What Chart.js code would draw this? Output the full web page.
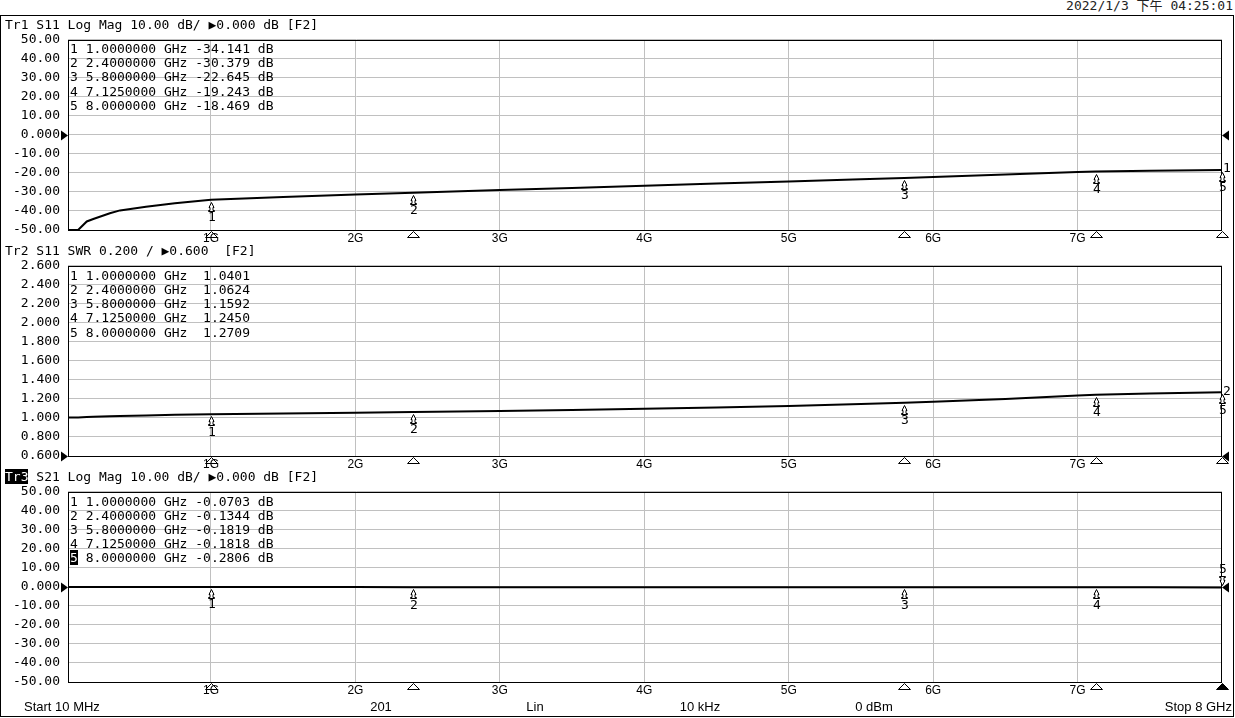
<!DOCTYPE html>
<html><head><meta charset="utf-8">
<script src="https://cdn.jsdelivr.net/npm/chart.js@4.4.1/dist/chart.umd.min.js"></script>
<style>
html,body{margin:0;padding:0;background:#fff;}
body{width:1235px;height:718px;position:relative;overflow:hidden;font-family:'DejaVu Sans Mono',monospace;font-size:13px;color:#000;}
#frame{position:absolute;left:0;top:15px;width:1232px;height:700px;border:1px solid #000;}
canvas{position:absolute;left:0;}
.t{position:absolute;white-space:pre;line-height:14px;z-index:5;font-family:'DejaVu Sans Mono',monospace;font-size:13px;}
.inv{background:#000;color:#fff;}
.sb{position:absolute;font-family:'Liberation Sans',Arial,sans-serif;font-size:13px;white-space:pre;line-height:14px;top:700px;z-index:5;}
</style></head>
<body>
<div id="frame"></div>
<canvas id="c1" width="1235" height="232" style="top:24px"></canvas>
<canvas id="c2" width="1235" height="232" style="top:250px"></canvas>
<canvas id="c3" width="1235" height="232" style="top:476px"></canvas>
<script>
// ---------------- data ----------------
const xTickValues = [1, 2, 3, 4, 5, 6, 7];
const xTickLabels = ["1G", "2G", "3G", "4G", "5G", "6G", "7G"];
const logMagTickValues = [-50, -40, -30, -20, -10, 0, 10, 20, 30, 40, 50];
const logMagTickLabels = ["-50.00", "-40.00", "-30.00", "-20.00", "-10.00", "0.000", "10.00", "20.00", "30.00", "40.00", "50.00"];
const swrTickValues = [0.6, 0.8, 1.0, 1.2, 1.4, 1.6, 1.8, 2.0, 2.2, 2.4, 2.6];
const swrTickLabels = ["0.600", "0.800", "1.000", "1.200", "1.400", "1.600", "1.800", "2.000", "2.200", "2.400", "2.600"];

const traceFreqGHz = [0.01, 0.08, 0.14, 0.185, 0.30, 0.37, 0.55, 0.75, 1.0, 1.5, 2.0, 2.4, 3.0, 3.5, 4.0, 4.5, 5.0, 5.5, 5.8, 6.0, 6.5, 7.0, 7.125, 7.5, 8.0];
const s11LogMag = [-50, -50, -45.5, -44.2, -41.2, -39.7, -37.8, -35.9, -34.141, -32.6, -31.3, -30.379, -29.0, -27.9, -26.75, -25.6, -24.5, -23.3, -22.645, -22.13, -20.85, -19.56, -19.243, -18.85, -18.469];
const s11Swr = [1.006, 1.006, 1.0107, 1.0124, 1.0176, 1.0209, 1.0261, 1.0326, 1.0401, 1.0480, 1.0560, 1.0624, 1.0736, 1.0839, 1.0964, 1.1108, 1.1267, 1.1468, 1.1592, 1.1697, 1.1994, 1.2349, 1.2450, 1.2576, 1.2709];
const s21LogMag = [-0.01, -0.02, -0.02, -0.03, -0.04, -0.04, -0.05, -0.06, -0.0703, -0.09, -0.11, -0.1344, -0.15, -0.155, -0.16, -0.165, -0.17, -0.178, -0.1819, -0.182, -0.183, -0.182, -0.1818, -0.22, -0.2806];

const markerFreqGHz = [1.0, 2.4, 5.8, 7.125, 8.0];
const markerS11LogMag = [-34.141, -30.379, -22.645, -19.243, -18.469];
const markerS11Swr = [1.0401, 1.0624, 1.1592, 1.2450, 1.2709];
const markerS21LogMag = [-0.0703, -0.1344, -0.1819, -0.1818, -0.2806];

const headerTr1 = "Tr1 S11 Log Mag 10.00 dB/ \u25B60.000 dB [F2]";
const headerTr2 = "Tr2 S11 SWR 0.200 / \u25B60.600  [F2]";
const headerTr3Id = "Tr3";
const headerTr3 = " S21 Log Mag 10.00 dB/ \u25B60.000 dB [F2]";
const timestamp = "2022/1/3 下午 04:25:01";
const statusItems = ["Start 10 MHz", "201", "Lin", "10 kHz", "0 dBm", "Stop 8 GHz"];

// ---------------- drawing ----------------
Chart.defaults.font.family = "'DejaVu Sans Mono', monospace";
Chart.defaults.font.size = 13;
Chart.defaults.color = '#000';

function drawArrow(ctx, px, py, down) {
  const x = Math.round(px) + 0.5;
  const s = down ? -1 : 1;
  const t = Math.round(py) + s * 2 + 0.5;
  ctx.beginPath();
  ctx.moveTo(x, t);
  ctx.lineTo(x + 2.5, t + s * 5);
  ctx.lineTo(x + 1.5, t + s * 5);
  ctx.lineTo(x + 1.5, t + s * 8);
  ctx.lineTo(x + 3, t + s * 8);
  ctx.lineTo(x + 3, t + s * 9);
  ctx.lineTo(x - 3, t + s * 9);
  ctx.lineTo(x - 3, t + s * 8);
  ctx.lineTo(x - 1.5, t + s * 8);
  ctx.lineTo(x - 1.5, t + s * 5);
  ctx.lineTo(x - 2.5, t + s * 5);
  ctx.closePath();
  ctx.fillStyle = '#fff';
  ctx.fill();
  ctx.strokeStyle = '#000';
  ctx.lineWidth = 1;
  ctx.stroke();
}

const vnaPlugin = {
  id: 'vna',
  afterDraw(chart, args, o) {
    const {ctx, chartArea: a} = chart;
    const xs = chart.scales.x, ys = chart.scales.y;
    ctx.save();
    // plot box
    ctx.strokeStyle = '#000';
    ctx.lineWidth = 1;
    ctx.strokeRect(Math.round(a.left) + 0.5, Math.round(a.top) + 0.5, Math.round(a.right - a.left) - 1, Math.round(a.bottom - a.top));
    // reference level triangles
    const ry = Math.round(ys.getPixelForValue(o.ref)) + 0.5;
    ctx.fillStyle = '#000';
    ctx.beginPath();
    ctx.moveTo(a.left - 7, ry - 5); ctx.lineTo(a.left, ry); ctx.lineTo(a.left - 7, ry + 5); ctx.closePath(); ctx.fill();
    ctx.beginPath();
    ctx.moveTo(a.right + 7, ry - 5); ctx.lineTo(a.right, ry); ctx.lineTo(a.right + 7, ry + 5); ctx.closePath(); ctx.fill();
    // markers
    ctx.font = "13px 'DejaVu Sans Mono', monospace";
    ctx.textAlign = 'center';
    ctx.textBaseline = 'middle';
    o.freqs.forEach((f, i) => {
      const px = xs.getPixelForValue(f);
      const py = ys.getPixelForValue(o.vals[i]);
      const down = o.down.includes(i);
      drawArrow(ctx, px, py, down);
      ctx.fillStyle = '#000';
      ctx.fillText(String(i + 1), Math.round(px) + 1, down ? py - 18 : py + 18);
      // axis triangle
      const bx = Math.round(px) + 0.5, by = Math.round(a.bottom) + 1.5;
      ctx.beginPath();
      ctx.moveTo(bx, by); ctx.lineTo(bx + 6, by + 6); ctx.lineTo(bx - 6, by + 6); ctx.closePath();
      if (i === o.active) { ctx.fillStyle = '#000'; ctx.fill(); }
      ctx.strokeStyle = '#000';
      ctx.stroke();
    });
    if (o.traceLabel) {
      const ly = ys.getPixelForValue(o.vals[o.vals.length - 1]);
      ctx.textAlign = 'left';
      ctx.fillStyle = '#000';
      ctx.fillText(o.traceLabel, a.right + 1, ly - 1);
    }
    ctx.restore();
  }
};

function buildPanel(id, freqs, vals, yVals, yLabels, vna) {
  return new Chart(document.getElementById(id), {
    type: 'line',
    data: {datasets: [{data: freqs.map((f, i) => ({x: f, y: vals[i]})), borderColor: '#000', borderWidth: 2, pointRadius: 0, tension: 0, fill: false}]},
    options: {
      responsive: false, animation: false, devicePixelRatio: 1,
      layout: {padding: {top: 0, right: 13, bottom: 0, left: 0}},
      plugins: {legend: {display: false}, tooltip: {enabled: false}, vna: vna},
      scales: {
        x: {
          type: 'linear', min: 0.01, max: 8,
          afterBuildTicks: s => { s.ticks = xTickValues.map(v => ({value: v})); },
          afterFit: s => { s.height = 26; },
          grid: {color: '#c0c0c0', lineWidth: 1, drawTicks: false},
          border: {display: false},
          ticks: {autoSkip: false, maxRotation: 0, padding: 1, font: {family: "'Liberation Sans', Arial, sans-serif", size: 12}, callback: (v, i) => xTickLabels[i]}
        },
        y: {
          min: yVals[0], max: yVals[yVals.length - 1],
          afterBuildTicks: s => { s.ticks = yVals.map(v => ({value: v})); },
          afterFit: s => { s.width = 68; },
          grid: {color: '#c0c0c0', lineWidth: 1, drawTicks: false},
          border: {display: false},
          ticks: {autoSkip: false, padding: 8, callback: (v, i) => yLabels[i]}
        }
      }
    },
    plugins: [vnaPlugin]
  });
}

buildPanel('c1', traceFreqGHz, s11LogMag, logMagTickValues, logMagTickLabels,
  {freqs: markerFreqGHz, vals: markerS11LogMag, ref: 0, active: -1, down: [], traceLabel: '1'});
buildPanel('c2', traceFreqGHz, s11Swr, swrTickValues, swrTickLabels,
  {freqs: markerFreqGHz, vals: markerS11Swr, ref: 0.6, active: -1, down: [], traceLabel: '2'});
buildPanel('c3', traceFreqGHz, s21LogMag, logMagTickValues, logMagTickLabels,
  {freqs: markerFreqGHz, vals: markerS21LogMag, ref: 0, active: 4, down: [4], traceLabel: null});

// ---------------- text overlays ----------------
function addText(html, left, capY, extra) {
  const d = document.createElement('div');
  d.className = 't';
  d.innerHTML = html;
  d.style.left = left + 'px';
  d.style.top = (capY - 6.8) + 'px';
  if (extra) Object.assign(d.style, extra);
  document.body.appendChild(d);
  return d;
}
function esc(s) { return s.replace(/&/g, '&amp;').replace(/</g, '&lt;'); }

addText(esc(headerTr1), 5, 25);
addText(esc(headerTr2), 5, 250.5);
addText('<span class="inv">' + headerTr3Id + '</span>' + esc(headerTr3), 5, 477);
const ts = addText(esc(timestamp), 0, 6);
ts.style.left = ''; ts.style.right = '2px';
ts.style.fontFamily = "'DejaVu Sans Mono','Noto Sans CJK SC',monospace";
ts.style.color = '#222';

function tableLines(vals, fmt, startY, invLast) {
  vals.forEach((v, i) => {
    const num = String(i + 1);
    const rest = ' ' + markerFreqGHz[i].toFixed(7) + ' GHz ' + fmt(v);
    const numHtml = (invLast && i === vals.length - 1) ? '<span class="inv">' + num + '</span>' : num;
    addText(numHtml + esc(rest), 70, startY + i * 14.2);
  });
}
tableLines(markerS11LogMag, v => v.toFixed(3) + ' dB', 48.8, false);
tableLines(markerS11Swr, v => ' ' + v.toFixed(4), 275.6, false);
tableLines(markerS21LogMag, v => v.toFixed(4) + ' dB', 501.3, true);

// status bar
const sbPos = [{left: 24}, {center: 381}, {center: 535}, {center: 700}, {center: 874}, {right: 3}];
statusItems.forEach((s, i) => {
  const d = document.createElement('div');
  d.className = 'sb';
  d.textContent = s;
  const p = sbPos[i];
  if (p.left !== undefined) d.style.left = p.left + 'px';
  else if (p.right !== undefined) d.style.right = p.right + 'px';
  else { d.style.left = p.center + 'px'; d.style.transform = 'translateX(-50%)'; }
  document.body.appendChild(d);
});
</script>
</body></html>
